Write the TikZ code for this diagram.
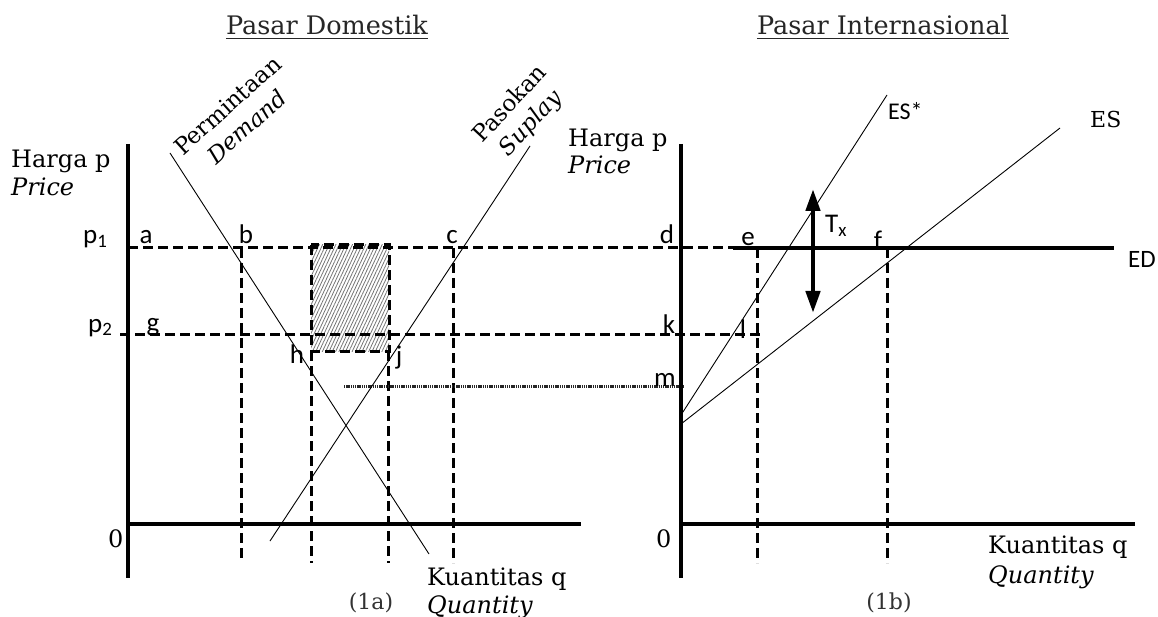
\documentclass[tikz,border=0pt]{standalone}
\usepackage{fontspec}
\setmainfont{DejaVu Serif}
\newfontfamily\labfont{Carlito}
\usetikzlibrary{arrows.meta,patterns.meta}
\begin{document}
\begin{tikzpicture}[x=1pt,y=-1pt,
  axisline/.style={line width=3.4pt},
  curveline/.style={line width=0.9pt},
  dline/.style={line width=3pt,dash pattern=on 10pt off 5pt},
  dotline/.style={line width=3pt,dash pattern=on 1.3pt off 0.9pt,black!85},
  ser/.style={font=\fontsize{24}{29}\selectfont,inner sep=0pt,anchor=base west},
  seri/.style={font=\itshape\fontsize{24}{29}\selectfont,inner sep=0pt,anchor=base west},
  lab/.style={font=\labfont\fontsize{27}{31}\selectfont,inner sep=0pt,anchor=base},
  titletxt/.style={font=\fontsize{25.5}{30}\selectfont,inner sep=0pt,anchor=base,text=black!85},
  captxt/.style={font=\fontsize{22}{26}\selectfont,inner sep=0pt,anchor=base,text=black!80},
  tagtxt/.style={font=\fontsize{23}{28.5}\selectfont,inner sep=0pt,anchor=center,align=center}
]
\useasboundingbox (0,0) rectangle (1158,617);

% ---------- titles ----------
\node[titletxt] (tL) at (327,35) {Pasar Domestik};
\node[titletxt] (tR) at (883,35) {Pasar Internasional};
\draw[line width=1pt,black!85] ([yshift=-4pt]tL.base west) -- ([yshift=-4pt]tL.base east);
\draw[line width=1pt,black!85] ([yshift=-4pt]tR.base west) -- ([yshift=-4pt]tR.base east);

% ---------- coordinates ----------
\coordinate (LT) at (128,144);
\coordinate (LB) at (128,578);
\coordinate (LO) at (128,524);
\coordinate (LR) at (581,524);
\coordinate (RT) at (681,144);
\coordinate (RB) at (681,578);
\coordinate (RO) at (681,524);
\coordinate (RR) at (1135,524);

\coordinate (D1) at (170,153);
\coordinate (D2) at (429,554);
\coordinate (S1) at (270,541);
\coordinate (S2) at (530,146);

\coordinate (P1a) at (128,248);
\coordinate (P1b) at (733,248);
\coordinate (P2a) at (120,334);
\coordinate (P2b) at (762,334);
\coordinate (EDa) at (733,248);
\coordinate (EDb) at (1114,248);

\coordinate (Bt) at (241,248);  \coordinate (Bb) at (241,560);
\coordinate (Ht) at (311,351);  \coordinate (Hb) at (311,563);
\coordinate (Jt) at (388,351);  \coordinate (Jb) at (388,563);
\coordinate (Ct) at (453,248);  \coordinate (Cb) at (453,563);
\coordinate (Et) at (757,248);  \coordinate (Eb) at (757,563);
\coordinate (Ft) at (887,248);  \coordinate (Fb) at (887,563);

\coordinate (R1) at (311,245);
\coordinate (R2) at (389,351);

\coordinate (M1) at (344,386);
\coordinate (M2) at (683,386);

\coordinate (ESs0) at (681,415);
\coordinate (ESs1) at (887,95);
\coordinate (ES0) at (681,424);
\coordinate (ES1) at (1060,128);

\coordinate (A1) at (813,189);
\coordinate (A2) at (813,313);

% ---------- hatched area ----------
\fill[pattern={Lines[angle=65,distance=3pt,line width=0.8pt]},pattern color=black!55] (R1) rectangle (R2);
\draw[dline] (R1) rectangle (R2);

% ---------- dashed guide lines ----------
\draw[dline] (P1a) -- (P1b);
\draw[dline] (P2a) -- (P2b);
\draw[dline] (Bt) -- (Bb);
\draw[dline] (Ht) -- (Hb);
\draw[dline] (Jt) -- (Jb);
\draw[dline] (Ct) -- (Cb);
\draw[dline] (Et) -- (Eb);
\draw[dline] (Ft) -- (Fb);
\draw[dotline] (M1) -- (M2);

% ---------- curves ----------
\draw[curveline] (D1) -- (D2);
\draw[curveline] (S1) -- (S2);
\draw[curveline] (ESs0) -- (ESs1);
\draw[curveline] (ES0) -- (ES1);

% ---------- axes ----------
\draw[axisline] (LT) -- (LB);
\draw[axisline] (LO) -- (LR);
\draw[axisline] (RT) -- (RB);
\draw[axisline] (RO) -- (RR);
\draw[axisline] (EDa) -- (EDb);

% ---------- Tx arrow ----------
\draw[line width=4.5pt,{Triangle[width=14pt,length=22pt]}-{Triangle[width=14pt,length=22pt]}] (A1) -- (A2);

% ---------- axis labels ----------
\node[ser] (hl) at (11,168) {Harga p};
\node[seri] (pl) at (11,196) {Price};
\node[ser] (hr) at (568,147) {Harga p};
\node[seri] (pr) at (568,174) {Price};
\node[ser] (kl) at (427,585) {Kuantitas q};
\node[seri] (ql) at (427,613) {Quantity};
\node[ser] (kr) at (988,553) {Kuantitas q};
\node[seri] (qr) at (988,583) {Quantity};
\node[ser] (zl) at (108,547) {0};
\node[ser] (zr) at (656,547) {0};
\node[captxt] (c1a) at (371,609) {(1a)};
\node[captxt] (c1b) at (889,609) {(1b)};

% ---------- curve labels ----------
\node[tagtxt,rotate=42] (perm) at (237,116) {Permintaan\\\textit{Demand}};
\node[tagtxt,rotate=47] (pas) at (521,114) {Pasokan\\\textit{Suplay}};
\node[lab,anchor=base west,font=\labfont\fontsize{24}{28}\selectfont] (lESs) at (888,120) {ES*};
\node[ser,font=\fontsize{22}{26}\selectfont] (lES) at (1090,128) {ES};
\node[lab,anchor=base west,font=\labfont\fontsize{25}{29}\selectfont] (lED) at (1128,268) {ED};
\node[lab,anchor=base west] (lTx) at (825,233) {T\textsubscript{x}};

% ---------- point labels ----------
\node[lab,anchor=base west] (np1) at (83,244) {p\textsubscript{1}};
\node[lab,anchor=base west] (np2) at (88,332) {p\textsubscript{2}};
\node[lab] (na) at (146,244) {a};
\node[lab] (nb) at (246,244) {b};
\node[lab] (nc) at (452,244) {c};
\node[lab] (nd) at (667,244) {d};
\node[lab] (ne) at (748,246) {e};
\node[lab] (nf) at (878,250) {f};
\node[lab] (ng) at (153,331) {g};
\node[lab] (nk) at (669,333) {k};
\node[lab] (nl) at (743,338) {l};
\node[lab] (nh) at (297,363) {h};
\node[lab] (nj) at (399,364) {j};
\node[lab] (nm) at (665,386) {m};
\end{tikzpicture}
\end{document}
